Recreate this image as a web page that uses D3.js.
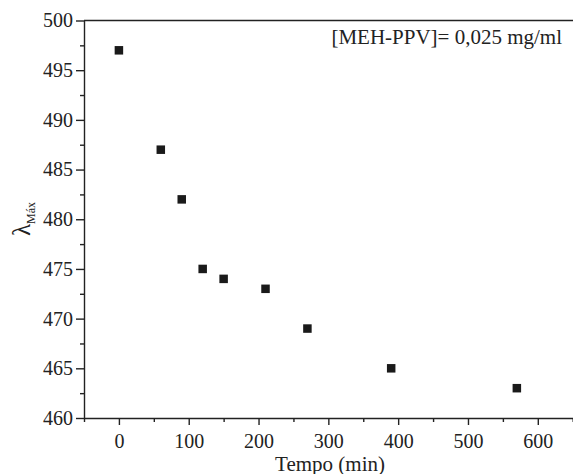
<html>
<head>
  <script src="https://d3js.org/d3.v7.min.js"></script>
  <style>
    body { margin: 0; background: #fff; }
    text { font-family: "Liberation Serif", "Times New Roman", serif; fill: #222; }
  </style>
</head>
<body>
<svg width="573" height="474"></svg>
<script>
  // tempo (min) vs lambda max (nm)
  var tempo = [0, 60, 90, 120, 150, 210, 270, 390, 570];
  var lambdaMax = [497, 487, 482, 475, 474, 473, 469, 465, 463];
  var xTicks = [0, 100, 200, 300, 400, 500, 600];
  var xMinor = [-50, 50, 150, 250, 350, 450, 550, 650];
  var yTicks = [460, 465, 470, 475, 480, 485, 490, 495, 500];
  var yMinor = [462.5, 467.5, 472.5, 477.5, 482.5, 487.5, 492.5, 497.5];

  var svg = d3.select("svg");
  var mLeft = 84, mTop = 20.5, mBottom = 418, mRight = 572.7;

  var x = d3.scaleLinear().domain([-50, 650]).range([mLeft, mRight]);
  var y = d3.scaleLinear().domain([460, 500]).range([mBottom, mTop]);

  // minor ticks first
  svg.append("g")
      .attr("transform", "translate(0," + mBottom + ")")
      .call(d3.axisBottom(x).tickValues(xMinor).tickSize(4).tickFormat(""))
      .call(function(g) { g.select(".domain").remove(); });
  svg.append("g")
      .attr("transform", "translate(" + mLeft + ",0)")
      .call(d3.axisLeft(y).tickValues(yMinor).tickSize(4).tickFormat(""))
      .call(function(g) { g.select(".domain").remove(); });

  var xAxis = svg.append("g")
      .attr("transform", "translate(0," + mBottom + ")")
      .call(d3.axisBottom(x).tickValues(xTicks).tickSize(7).tickSizeOuter(0).tickPadding(9));
  xAxis.selectAll("text").attr("font-size", 20).attr("fill", "#222");

  var yAxis = svg.append("g")
      .attr("transform", "translate(" + mLeft + ",0)")
      .call(d3.axisLeft(y).tickValues(yTicks).tickSize(8).tickSizeOuter(0).tickPadding(3));
  yAxis.selectAll("text").attr("font-size", 20).attr("fill", "#222");

  svg.selectAll(".domain, .tick line").attr("stroke", "#222").attr("stroke-width", 1.4);
  svg.selectAll("g").attr("font-family", null);

  // top border line
  svg.append("line")
      .attr("x1", mLeft).attr("x2", 573)
      .attr("y1", mTop).attr("y2", mTop)
      .attr("stroke", "#222").attr("stroke-width", 1.4);

  var s = 8.5;
  svg.selectAll("rect.pt")
    .data(tempo)
    .enter().append("rect")
      .attr("class", "pt")
      .attr("x", function(d) { return x(d) - s / 2; })
      .attr("y", function(d, i) { return y(lambdaMax[i]) - s / 2; })
      .attr("width", s)
      .attr("height", s)
      .attr("fill", "#1a1a1a");

  svg.append("text")
      .attr("x", 562).attr("y", 44)
      .attr("text-anchor", "end")
      .attr("font-size", 21)
      .text("[MEH-PPV]= 0,025 mg/ml");

  svg.append("text")
      .attr("x", 330).attr("y", 470.5)
      .attr("text-anchor", "middle")
      .attr("font-size", 21)
      .text("Tempo (min)");

  var yl = svg.append("text")
      .attr("transform", "translate(30,219) rotate(-90)")
      .attr("text-anchor", "middle");
  yl.append("tspan").attr("font-size", 25).text("λ");
  yl.append("tspan").attr("font-size", 12).attr("dy", 5).text("Máx");
</script>
</body>
</html>
